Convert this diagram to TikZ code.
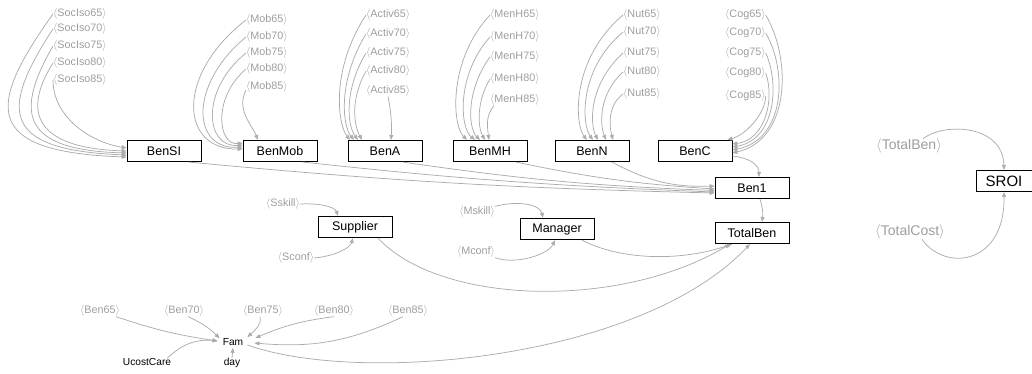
\documentclass[tikz,border=0pt]{standalone}
\usepackage{fontspec}
\setmainfont{Liberation Sans}
\usetikzlibrary{arrows.meta}
\definecolor{lc}{RGB}{172,172,172}
\definecolor{lt}{RGB}{158,158,158}
\newcommand{\shd}[1]{$\langle$#1$\rangle$}
\begin{document}
\begin{tikzpicture}[x=1pt,y=1pt,
  box/.style={draw=black,line width=0.7pt,minimum width=74pt,minimum height=21.5pt,inner sep=0pt,font=\fontsize{12.5}{14}\selectfont},
  shv/.style={text=lt,inner sep=0pt,font=\fontsize{10.8}{12}\selectfont},
  shvbig/.style={text=lt,inner sep=0pt,font=\fontsize{14}{16}\selectfont},
  var/.style={inner sep=0pt,font=\fontsize{10.2}{12}\selectfont},
  conn/.style={draw=lc,line width=0.75pt,-{Triangle[length=5pt,width=4pt]}},
]
\useasboundingbox (0,0) rectangle (1032,-374);
% boxes
\node[box] (BenSI) at (164,-151) {BenSI};
\node[box] (BenMob) at (280,-151) {BenMob};
\node[box] (BenA) at (385,-151) {BenA};
\node[box] (BenMH) at (490,-151) {BenMH};
\node[box] (BenN) at (592,-151) {BenN};
\node[box] (BenC) at (695,-151) {BenC};
\node[box] (Ben1) at (752,-188) {Ben1};
\node[box] (TotalBen) at (752,-233) {TotalBen};
\node[box] (Supplier) at (355,-227) {Supplier};
\node[box] (Manager) at (557,-229) {Manager};
\node[box,minimum width=56pt,font=\fontsize{15}{17}\selectfont] (SROI) at (1004,-181) {SROI};
% shadow labels
\node[shv,anchor=west] (s65) at (53,-14) {\shd{SocIso65}};
\node[shv,anchor=west] (s70) at (53,-29) {\shd{SocIso70}};
\node[shv,anchor=west] (s75) at (53,-46) {\shd{SocIso75}};
\node[shv,anchor=west] (s80) at (53,-63) {\shd{SocIso80}};
\node[shv,anchor=west] (s85) at (53,-80) {\shd{SocIso85}};
\node[shv,anchor=west] (m65) at (246,-20) {\shd{Mob65}};
\node[shv,anchor=west] (m70) at (246,-37) {\shd{Mob70}};
\node[shv,anchor=west] (m75) at (246,-53) {\shd{Mob75}};
\node[shv,anchor=west] (m80) at (246,-69) {\shd{Mob80}};
\node[shv,anchor=west] (m85) at (246,-87) {\shd{Mob85}};
\node[shv,anchor=west] (a65) at (366,-15) {\shd{Activ65}};
\node[shv,anchor=west] (a70) at (366,-34) {\shd{Activ70}};
\node[shv,anchor=west] (a75) at (366,-53) {\shd{Activ75}};
\node[shv,anchor=west] (a80) at (366,-71) {\shd{Activ80}};
\node[shv,anchor=west] (a85) at (366,-91) {\shd{Activ85}};
\node[shv,anchor=west] (h65) at (490,-15) {\shd{MenH65}};
\node[shv,anchor=west] (h70) at (490,-37) {\shd{MenH70}};
\node[shv,anchor=west] (h75) at (490,-57) {\shd{MenH75}};
\node[shv,anchor=west] (h80) at (490,-79) {\shd{MenH80}};
\node[shv,anchor=west] (h85) at (490,-100) {\shd{MenH85}};
\node[shv,anchor=west] (n65) at (623,-15) {\shd{Nut65}};
\node[shv,anchor=west] (n70) at (623,-32) {\shd{Nut70}};
\node[shv,anchor=west] (n75) at (623,-53) {\shd{Nut75}};
\node[shv,anchor=west] (n80) at (623,-72) {\shd{Nut80}};
\node[shv,anchor=west] (n85) at (623,-94) {\shd{Nut85}};
\node[shv,anchor=west] (c65) at (725,-15) {\shd{Cog65}};
\node[shv,anchor=west] (c70) at (725,-33) {\shd{Cog70}};
\node[shv,anchor=west] (c75) at (725,-53) {\shd{Cog75}};
\node[shv,anchor=west] (c80) at (725,-73) {\shd{Cog80}};
\node[shv,anchor=west] (c85) at (725,-96) {\shd{Cog85}};
\node[shvbig] (tb) at (909,-146) {\shd{TotalBen}};
\node[shvbig] (tc) at (910,-232) {\shd{TotalCost}};
\node[shv] (sk) at (283,-204) {\shd{Sskill}};
\node[shv] (sc) at (296,-258) {\shd{Sconf}};
\node[shv] (mk) at (477,-212) {\shd{Mskill}};
\node[shv] (mc) at (476,-252) {\shd{Mconf}};
\node[shv] (b65) at (100,-311) {\shd{Ben65}};
\node[shv] (b70) at (184,-311) {\shd{Ben70}};
\node[shv] (b75) at (263,-311) {\shd{Ben75}};
\node[shv] (b80) at (334,-311) {\shd{Ben80}};
\node[shv] (b85) at (408,-311) {\shd{Ben85}};
\node[var] (Fam) at (233,-342) {Fam};
\node[var] (day) at (232,-363) {day};
\node[var] (uc) at (147,-362) {UcostCare};
% SocIso -> BenSI
\draw[conn] (s65.west) .. controls (-12,-105) and (-20,-152) .. ([yshift=-6]BenSI.west);
\draw[conn] (s70.west) .. controls (0,-110) and (0,-150) .. ([yshift=-4]BenSI.west);
\draw[conn] (s75.west) .. controls (15,-112) and (20,-150) .. ([yshift=-2]BenSI.west);
\draw[conn] (s80.west) .. controls (22,-112) and (35,-148) .. (BenSI.west);
\draw[conn] (s85.west) .. controls (53,-117) and (90,-142) .. ([yshift=3]BenSI.west);
% Mob -> BenMob
\draw[conn] (m65.west) .. controls (175,-75) and (180,-150) .. ([yshift=2]BenMob.west);
\draw[conn] (m70.west) .. controls (188,-85) and (192,-150) .. ([yshift=4]BenMob.west);
\draw[conn] (m75.west) .. controls (200,-90) and (205,-148) .. ([yshift=6]BenMob.west);
\draw[conn] (m80.west) .. controls (212,-98) and (218,-146) .. ([yshift=8]BenMob.west);
\draw[conn] ([yshift=-3]m85.west) .. controls (236,-110) and (252,-125) .. ([xshift=-22]BenMob.north);
% Activ -> BenA
\draw[conn] (a65.west) .. controls (330,-70) and (338,-125) .. ([xshift=-35]BenA.north);
\draw[conn] (a70.west) .. controls (338,-80) and (342,-125) .. ([xshift=-31]BenA.north);
\draw[conn] (a75.west) .. controls (344,-90) and (347,-125) .. ([xshift=-27]BenA.north);
\draw[conn] (a80.west) .. controls (350,-100) and (354,-125) .. ([xshift=-23]BenA.north);
\draw[conn] (a85.south) .. controls (391,-112) and (392,-125) .. ([xshift=6]BenA.north);
% MenH -> BenMH
\draw[conn] (h65.west) .. controls (448,-60) and (452,-125) .. ([xshift=-23]BenMH.north);
\draw[conn] (h70.west) .. controls (456,-75) and (460,-128) .. ([xshift=-15]BenMH.north);
\draw[conn] (h75.west) .. controls (466,-90) and (468,-128) .. ([xshift=-10]BenMH.north);
\draw[conn] (h80.west) .. controls (476,-102) and (478,-128) .. ([xshift=-5]BenMH.north);
\draw[conn] ([xshift=4]h85.south west) .. controls (486,-115) and (487,-125) .. ([xshift=-1]BenMH.north);
% Nut -> BenN
\draw[conn] (n65.west) .. controls (570,-60) and (575,-125) .. ([xshift=-5]BenN.north);
\draw[conn] (n70.west) .. controls (578,-70) and (582,-125) .. ([xshift=1]BenN.north);
\draw[conn] (n75.west) .. controls (588,-85) and (590,-125) .. ([xshift=6]BenN.north);
\draw[conn] (n80.west) .. controls (598,-95) and (600,-125) .. ([xshift=14]BenN.north);
\draw[conn] (n85.west) .. controls (608,-105) and (609,-125) .. ([xshift=21]BenN.north);
% Cog -> BenC
\draw[conn] (c65.east) .. controls (792,-60) and (790,-140) .. ([yshift=-2]BenC.east);
\draw[conn] (c70.east) .. controls (788,-72) and (785,-140) .. ([yshift=1]BenC.east);
\draw[conn] (c75.east) .. controls (780,-85) and (775,-140) .. ([yshift=4]BenC.east);
\draw[conn] (c80.east) .. controls (775,-100) and (765,-140) .. ([yshift=7]BenC.east);
\draw[conn] (c85.east) .. controls (765,-115) and (745,-135) .. ([xshift=-5]BenC.north east);
% Ben* -> Ben1
\coordinate (bcs) at ([yshift=-5]BenC.east);
\draw[conn] (bcs) .. controls (750,-158) and (759,-165) .. ([xshift=7]Ben1.north);
\draw[conn] ([xshift=25]BenSI.south) to[bend right=2] ([yshift=-5]Ben1.west);
\draw[conn] ([xshift=23]BenMob.south) to[bend right=2] ([yshift=-4]Ben1.west);
\draw[conn] ([xshift=18]BenA.south) to[bend right=3] ([yshift=-2.5]Ben1.west);
\draw[conn] ([xshift=26]BenMH.south) to[bend right=4] ([yshift=-1]Ben1.west);
\draw[conn] ([xshift=20]BenN.south) to[bend right=15] ([yshift=2]Ben1.west);
\draw[conn] ([xshift=8]Ben1.south) to[bend left=12] ([xshift=10]TotalBen.north);
% -> TotalBen
\draw[conn] ([xshift=23]Supplier.south) .. controls (440,-305) and (620,-310) .. ([xshift=-22]TotalBen.south);
\draw[conn] ([xshift=25]Manager.south) .. controls (620,-260) and (680,-262) .. ([xshift=-20]TotalBen.south);
\draw[conn] ([xshift=4,yshift=-3]Fam.east) .. controls (360,-385) and (640,-360) .. ([xshift=-2]TotalBen.south);
% SROI
\draw[conn] ([xshift=14]tb.north) .. controls (945,-122) and (1003,-125) .. (SROI.north);
\draw[conn] ([xshift=12]tc.south) .. controls (945,-272) and (1005,-265) .. (SROI.south);
% Supplier / Manager inputs
\draw[conn] (sk.east) .. controls (320,-203) and (335,-207) .. ([xshift=-17]Supplier.north);
\draw[conn] (sc.east) .. controls (335,-256) and (350,-248) .. ([xshift=-2]Supplier.south);
\draw[conn] (mk.north east) .. controls (520,-200) and (540,-205) .. ([xshift=-14]Manager.north);
\draw[conn] (mc.south east) .. controls (515,-265) and (548,-255) .. ([xshift=-2]Manager.south);
% Fam inputs
\draw[conn] ([xshift=-4]b65.south east) to[bend right=5] ([xshift=-5,yshift=1]Fam.west);
\draw[conn] ([xshift=4]b70.south) to[bend left=10] ([xshift=-3]Fam.north west);
\draw[conn] ([xshift=-3]b75.south) .. controls (262,-325) and (255,-330) .. ([xshift=4,yshift=1]Fam.north east);
\draw[conn] (b80.south) to[bend right=8] ([xshift=12,yshift=4]Fam.east);
\draw[conn] ([xshift=-5]b85.south) to[bend left=15] ([xshift=11,yshift=-1]Fam.east);
\draw[conn] ([xshift=-4]uc.north east) to[bend left=25] ([xshift=-5,yshift=1]Fam.west);
\draw[conn] (day.north) -- ([yshift=-2]Fam.south);
\end{tikzpicture}
\end{document}
